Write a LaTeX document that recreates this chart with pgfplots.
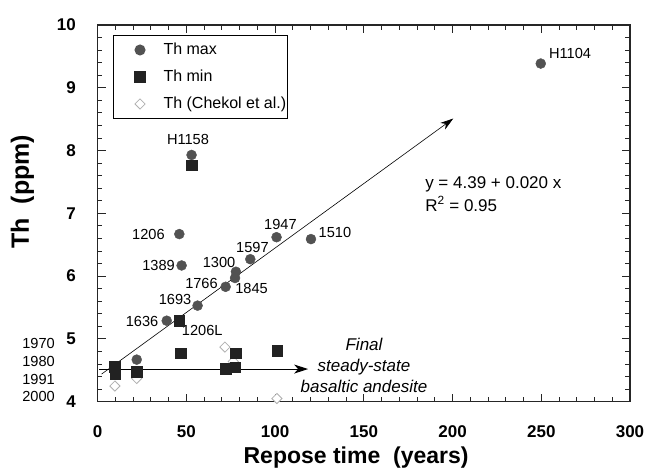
\documentclass[border=0pt]{standalone}
\usepackage{pgfplots}
\pgfplotsset{compat=1.18}
\usepackage{fontspec}
\setmainfont{Liberation Sans}
\usetikzlibrary{arrows.meta}
\definecolor{maxgray}{HTML}{525252}
\definecolor{mindark}{HTML}{222222}
\definecolor{chek}{HTML}{B0B0B0}
\tikzset{lbl/.style={font=\fontsize{14.6}{17}\selectfont, inner sep=0pt, anchor=center}}
\begin{document}
\begin{tikzpicture}
\useasboundingbox (-97.7pt,-69.3pt) rectangle (548.3pt,401.7pt);
\begin{axis}[
  at={(0pt,0pt)}, anchor=south west,
  scale only axis, width=532.3pt, height=376.7pt,
  xmin=0, xmax=300, ymin=4, ymax=10,
  xtick={0,50,...,300}, ytick={4,5,...,10},
  minor x tick num=4, minor y tick num=4,
  tick align=inside,
  major tick length=8pt, minor tick length=4.5pt,
  axis line style={line width=1.2pt, color=black!85},
  every tick/.append style={line width=1pt, color=black!85},
  /pgf/number format/assume math mode=true,
  ticklabel style={font=\bfseries\fontsize{17}{20}\selectfont, inner sep=0pt},
  xticklabel style={anchor=north, yshift=-24pt},
  yticklabel style={anchor=east, xshift=-21.7pt},
  xlabel={Repose time~ (years)},
  ylabel={Th~ (ppm)},
  xlabel style={at={(axis description cs:0.4855,-0.1495)}, anchor=center, font=\bfseries\fontsize{23}{26}\selectfont},
  ylabel style={at={(axis description cs:-0.1413,0.5575)}, anchor=center, rotate=0, font=\bfseries\fontsize{25}{28}\selectfont},
  clip=false,
  legend style={at={(axis description cs:0.0288,0.9735)}, anchor=north west, draw=black, line width=1pt,
    inner xsep=0pt, inner ysep=5pt, row sep=8pt, font=\fontsize{16}{19}\selectfont,
    nodes={text height=12pt, text depth=3pt, inner ysep=2pt, inner xsep=1pt}},
  legend cell align=left,
  legend image code/.code={\path (-26pt,0pt) (22pt,0pt); \draw[#1] plot coordinates {(0pt,0pt)};},
]
% arrows
\addplot[forget plot, black, line width=0.6pt, -{Stealth[length=13pt,width=8pt,inset=4pt]}]
  coordinates {(2.2,4.44) (200.4,8.51)};
\addplot[forget plot, black, line width=1pt, -{Stealth[length=14pt,width=9pt,inset=4pt]}]
  coordinates {(1,4.52) (118.6,4.52)};
% Chekol et al.
\addplot[forget plot, only marks, mark=square*, mark size=3.6pt,
  mark options={rotate=45, fill=white, draw=chek, line width=0.8pt}]
  coordinates {(9.7,4.25) (22,4.37) (71.7,4.87) (76.4,4.64) (101,4.05)};
% Th max
\addplot[only marks, mark=*, mark size=5pt, mark options={fill=maxgray, draw=maxgray}]
  coordinates {(10,4.55) (22,4.67) (38.9,5.29) (46,6.67) (47.3,6.17) (52.9,7.93)
    (56.3,5.53) (72.1,5.83) (77.4,5.97) (77.9,6.07) (86,6.27) (100.8,6.62)
    (120.2,6.59) (249.7,9.386)};
\addlegendentry{Th max}
% Th min
\addplot[only marks, mark=square*, mark size=5.3pt, mark options={fill=mindark, draw=mindark}]
  coordinates {(9.7,4.56) (9.9,4.44) (22,4.48) (46,5.29) (46.9,4.77) (52.9,7.77)
    (72.3,4.53) (77.4,4.55) (77.9,4.77) (101.2,4.81)};
\addlegendentry{Th min}
\addlegendimage{only marks, mark=square*, mark size=3.6pt, mark options={rotate=45, fill=white, draw=chek, line width=0.8pt}}
\addlegendentry{Th (Chekol et al.)}
% labels
\node[lbl] at (axis cs:266.2,9.553) {H1104};
\node[lbl] at (axis cs:50.9,8.169) {H1158};
\node[lbl] at (axis cs:28.6,6.669) {1206};
\node[lbl] at (axis cs:34.3,6.166) {1389};
\node[lbl] at (axis cs:103.0,6.83) {1947};
\node[lbl] at (axis cs:133.7,6.70) {1510};
\node[lbl] at (axis cs:87.2,6.464) {1597};
\node[lbl] at (axis cs:68.4,6.225) {1300};
\node[lbl] at (axis cs:86.7,5.811) {1845};
\node[lbl] at (axis cs:58.5,5.891) {1766};
\node[lbl] at (axis cs:43.6,5.636) {1693};
\node[lbl] at (axis cs:25.0,5.274) {1636};
\node[lbl] at (axis cs:58.9,5.142) {1206L};
% years
\node[lbl, anchor=east] at (axis cs:-24.07,4.930) {1970};
\node[lbl, anchor=east] at (axis cs:-24.07,4.647) {1980};
\node[lbl, anchor=east] at (axis cs:-24.07,4.360) {1991};
\node[lbl, anchor=east] at (axis cs:-24.07,4.080) {2000};
% equation
\node[font=\fontsize{17}{20}\selectfont, inner sep=0pt, anchor=base west] at (axis cs:184.5,7.391) {y = 4.39 + 0.020 x};
\node[font=\fontsize{17}{20}\selectfont, inner sep=0pt, anchor=base west] at (axis cs:184.5,7.036) {R\textsuperscript{2} = 0.95};
% final steady state
\node[font=\itshape\fontsize{17}{20}\selectfont, inner sep=0pt, anchor=base] at (axis cs:150.1,4.808) {Final};
\node[font=\itshape\fontsize{17}{20}\selectfont, inner sep=0pt, anchor=base] at (axis cs:150.1,4.477) {steady-state};
\node[font=\itshape\fontsize{17}{20}\selectfont, inner sep=0pt, anchor=base] at (axis cs:150.1,4.145) {basaltic andesite};
\end{axis}
\end{tikzpicture}
\end{document}
